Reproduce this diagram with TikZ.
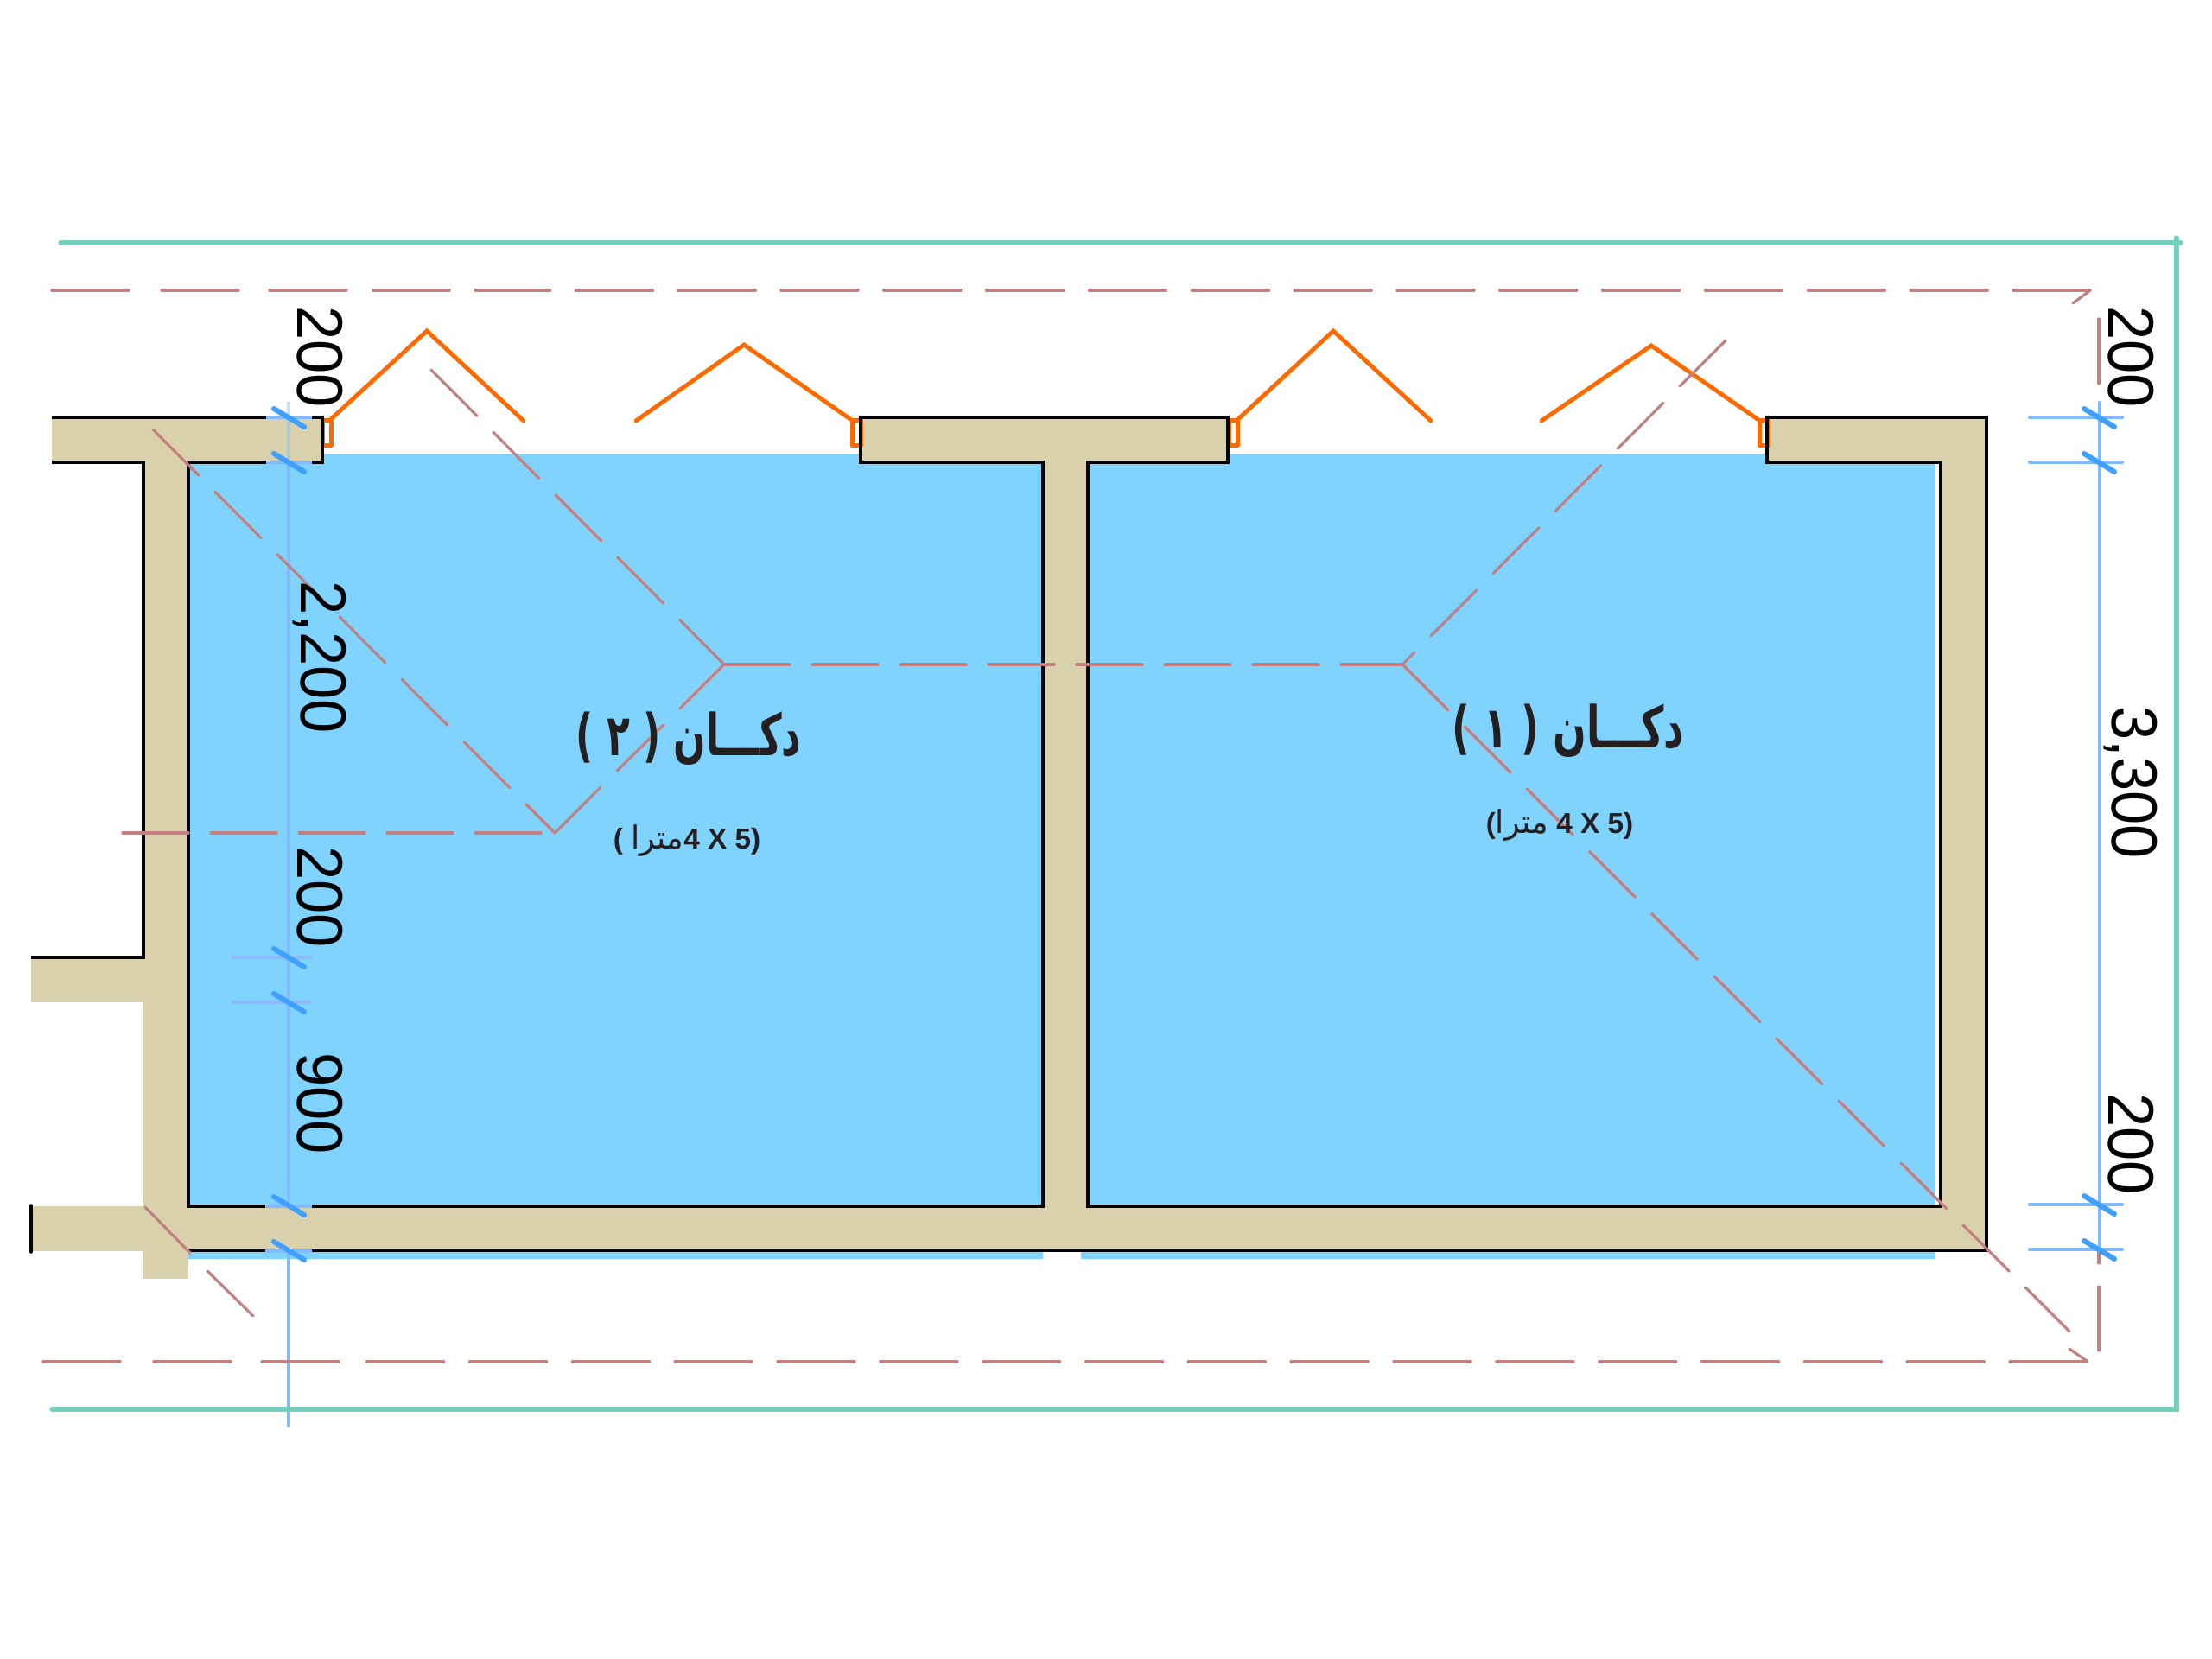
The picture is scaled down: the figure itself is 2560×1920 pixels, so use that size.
\documentclass[tikz,border=0pt]{standalone}
\usepackage{fontspec}
\setmainfont{Liberation Sans}
\newfontfamily\arabicfont[Script=Arabic]{DejaVu Sans}
\TeXXeTstate=1
\definecolor{wallc}{HTML}{D9D0AC}
\definecolor{roomc}{HTML}{80D2FF}
\definecolor{tealc}{HTML}{74CFBC}
\definecolor{redc}{HTML}{C28080}
\definecolor{orangec}{HTML}{FF6A00}
\definecolor{dimc}{HTML}{80BBFF}
\definecolor{softc}{HTML}{8DB9FF}
\definecolor{tickc}{HTML}{3FA0FF}
\definecolor{inkc}{HTML}{231F20}
\tikzset{
  wallfill/.style={fill=wallc,draw=none},
  roomfill/.style={fill=roomc,draw=none},
  wallline/.style={draw=black,line width=1.05pt,line join=miter},
  outerline/.style={draw=tealc,line width=1.6pt,line cap=round,line join=miter},
  hipdiag/.style={draw=redc,line width=0.95pt,line cap=round,dash pattern=on 22.5pt off 8.1pt},
  hiphoriz/.style={draw=redc,line width=1.05pt,line cap=round,dash pattern=on 22.8pt off 7.8pt},
  hiplong/.style={draw=redc,line width=1.05pt,line cap=round,dash pattern=on 26.7pt off 8.95pt},
  hipsolid/.style={draw=redc,line width=0.95pt,line cap=round},
  leafline/.style={draw=orangec,line width=1.45pt,line cap=round,line join=miter},
  jamb/.style={draw=orangec,fill=white,line width=1.5pt,line join=round},
  dimline/.style={draw=dimc,line width=1.35pt,line cap=round},
  dimext/.style={draw=dimc,line width=1.35pt,line cap=round},
  dimextsoft/.style={draw=softc,line width=1.1pt},
  tickmark/.style={draw=tickc,line width=1.8pt,line cap=round},
  dimtext/.style={inner sep=0pt,font=\fontsize{22.5}{24}\selectfont,text=black,rotate=-90,xscale=0.94},
  titletext/.style={inner sep=0pt,text=inkc},
}
\begin{document}
\begin{tikzpicture}[x=0.3pt,y=-0.3pt]
\useasboundingbox (0,0) rectangle (2560,1920);
\fill[white] (0,0) rectangle (2560,1920);

% rooms
\path[roomfill] (218,525) rectangle (1207,1457);
\path[roomfill] (1251,525) rectangle (2240,1457);

% dimension line, left (below the walls)
\draw[dimline] (334,535) -- (334,1396);
\draw[dimline] (334,1448) -- (334,1650);

% walls
\path[wallfill] (60,483) rectangle (373,535);
\path[wallfill] (166,535) rectangle (218,1480);
\path[wallfill] (36,1108) rectangle (166,1160);
\path[wallfill] (36,1396) rectangle (166,1448);
\path[wallfill] (166,1396) rectangle (2299,1447);
\path[wallfill] (996,483) rectangle (1421,535);
\path[wallfill] (1207,535) rectangle (1259,1396);
\path[wallfill] (2045,483) rectangle (2299,535);
\path[wallfill] (2246,535) rectangle (2299,1396);
\draw[dimc,opacity=0.45,line width=1.35pt] (334,465) -- (334,535);

% door jambs and leaves
\foreach \jx in {373,986,1422,2036}{
  \draw[jamb] (\jx,487) rectangle ++(10,29);
}
\draw[leafline] (383,485) -- (494,383) -- (606,487);
\draw[leafline] (736,487) -- (861,399) -- (984,485);
\draw[leafline] (1433,485) -- (1543,383) -- (1656,487);
\draw[leafline] (1784,487) -- (1911,400) -- (2034,485);

% wall outlines
\draw[wallline] (60,483) -- (373,483) -- (373,535) -- (218,535) -- (218,1396) -- (1207,1396)
  -- (1207,535) -- (996,535) -- (996,483) -- (1421,483) -- (1421,535) -- (1259,535)
  -- (1259,1396) -- (2246,1396) -- (2246,535) -- (2045,535) -- (2045,483) -- (2299,483)
  -- (2299,1447) -- (218,1447);
\draw[wallline] (60,535) -- (166,535) -- (166,1108) -- (36,1108);
\draw[wallline,line cap=round] (36,1395) -- (36,1449);

% outer boundary
\draw[outerline] (70,281) -- (2524,281);
\draw[outerline] (2519,275) -- (2519,1631) -- (60,1631);

% roof hip lines
\draw[hiplong] (2419,336) -- (550,336);
\draw[hiplong] (520,336) -- (432,336);
\draw[hiplong] (401,336) -- (312,336);
\draw[hiplong] (276,336) -- (187,336);
\draw[hiplong] (149,336) -- (60,336);
\draw[hipsolid] (2419,336) -- (2399,351);
\draw[hipsolid] (2429,369) -- (2429,444);
\draw[hiplong] (2415,1576) -- (423,1576);
\draw[hiplong] (392,1576) -- (303,1576);
\draw[hiplong] (267,1576) -- (178,1576);
\draw[hiplong] (139,1576) -- (50,1576);
\draw[hipdiag] (177,497) -- (642,964);
\draw[hipdiag] (642,964) -- (838,769);
\draw[hipdiag] (499,428) -- (838,769);
\draw[hiphoriz] (838,769) -- (1623,769);
\draw[hiphoriz] (142,964) -- (626,964);
\draw[hipdiag] (1997,394) -- (1623,769);
\draw[hipdiag] (1623,769) -- (2395,1541);
\draw[hipsolid] (2395,1561) -- (2415,1575);
\draw[hipsolid] (168,1397) -- (220,1450);
\draw[hipsolid] (240,1471) -- (293,1523);
\draw[hipsolid] (2429,1450) -- (2429,1462);
\draw[hipsolid] (2429,1489) -- (2429,1563);

% dimension extension lines and ticks, left
\draw[dimext,line cap=butt] (308,483) -- (361,483);
\draw[dimext,line cap=butt] (308,535) -- (361,535);
\draw[dimextsoft] (268,1108) -- (361,1108);
\draw[dimextsoft] (268,1160) -- (361,1160);
\draw[dimext,line cap=butt] (307,1396) -- (361,1396);
\draw[dimext,line cap=butt] (307,1448) -- (361,1448);
\foreach \ty in {473,525,1098,1150,1385,1437}{
  \draw[tickmark] (317,\ty) -- (352,\ty+21);
}

% dimension extension lines and ticks, right
\draw[dimline] (2430,466) -- (2430,1446);
\foreach \ey in {483,535,1394,1446}{
  \draw[dimext] (2349,\ey) -- (2456,\ey);
}
\foreach \ty in {473,525,1384,1436}{
  \draw[tickmark] (2412,\ty) -- (2447,\ty+21);
}

% dimension texts
\node[dimtext] (dimla) at (370,413) {200};
\node[dimtext] (dimlb) at (370,761) {2,200};
\node[dimtext] (dimlc) at (370,1038) {200};
\node[dimtext] (dimld) at (370,1277) {900};
\node[dimtext] (dimra) at (2466,413) {200};
\node[dimtext] (dimrb) at (2466,906) {3,300};
\node[dimtext] (dimrc) at (2466,1324) {200};

% room titles
\node[titletext,xscale=0.66,font=\arabicfont\bfseries\fontsize{20}{22}\selectfont] (shoptwo) at (797,855) {\beginR دكـــان ( ٢ )\endR};
\node[titletext,xscale=0.68,font=\arabicfont\bfseries\fontsize{20}{22}\selectfont] (shopone) at (1815,846) {\beginR دكـــان ( ١ )\endR};
\node[titletext,font=\bfseries\fontsize{10}{12}\selectfont] (areatwo) at (795,973) {( {\arabicfont\mdseries\fontsize{11}{12}\selectfont\beginR مترا\endR}4 X 5)};
\node[titletext,font=\bfseries\fontsize{10}{12}\selectfont] (areaone) at (1805,955) {({\arabicfont\mdseries\fontsize{11}{12}\selectfont\beginR مترا\endR} 4 X 5)};
\end{tikzpicture}
\end{document}
